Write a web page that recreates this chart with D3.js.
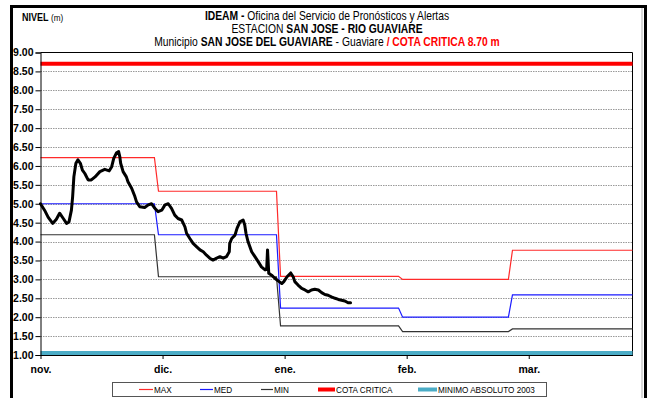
<!DOCTYPE html>
<html>
<head>
<meta charset="utf-8">
<script src="https://cdn.jsdelivr.net/npm/d3@7"></script>
<style>
  html, body { margin: 0; padding: 0; background: #fff; }
  svg { display: block; }
</style>
</head>
<body>
<svg id="chart" width="650" height="398"></svg>
<script>
// Axis ticks: day offsets from 1 Nov, labelled by month
const tickDays = [0, 30, 60, 90, 120];
const tickLabels = ["nov.", "dic.", "ene.", "feb.", "mar."];
const levelTicks = [1, 1.5, 2, 2.5, 3, 3.5, 4, 4.5, 5, 5.5, 6, 6.5, 7, 7.5, 8, 8.5, 9];

// Historical reference levels (breakpoints by day)
const refDays   = [0, 28, 29, 58, 59, 88, 89, 115, 116, 145.5];
const maxLevels = [6.22, 6.22, 5.33, 5.33, 3.08, 3.08, 3.00, 3.00, 3.77, 3.77];
const medLevels = [5.00, 5.00, 4.18, 4.18, 2.24, 2.24, 2.00, 2.00, 2.59, 2.59];
const minLevels = [4.18, 4.18, 3.07, 3.07, 1.77, 1.77, 1.62, 1.62, 1.69, 1.69];

const cotaCritica = 8.70;
const minimoAbsoluto = 1.05;

// Observed water level (day offset, metres)
const obsDays = [0, 1, 1.9, 3, 3.9, 4.7, 5.6, 6.4, 7, 7.6, 7.9, 8.2, 8.7, 9.2, 9.8, 10.3, 10.9, 11.7, 12.5, 13.4,
  14.6, 15.8, 16.9, 17.5, 18, 18.7, 19.2, 19.5, 19.7, 20.3, 21.1, 21.5, 22.4, 23.2, 23.6, 24.4, 25.6, 26.5, 27.3,
  28.1, 28.9, 29.8, 30.6, 31.4, 32.2, 33, 33.8, 34.7, 35.1, 35.5, 35.9, 36.7, 37.5, 38.4, 39.2, 40, 40.8, 41.6,
  42.4, 43.3, 44.1, 44.9, 45.7, 46.4, 46.5, 47, 47.8, 48.3, 49, 49.8, 50.2, 50.5, 51, 51.9, 52.7, 53.5, 54.3,
  55.2, 55.6, 55.8, 56.1, 56.8, 57.6, 58.4, 59.3, 59.8, 60.6, 61.5, 62.1, 62.5, 63.3, 64.2, 65, 65.8, 66.6,
  67.4, 68.3, 69.1, 69.9, 70.7, 71.5, 72.4, 73.2, 74, 74.8, 75.6, 76.2];
const obsLevels = [5.00, 4.83, 4.64, 4.48, 4.59, 4.75, 4.61, 4.48, 4.52, 4.83, 5.19, 5.71, 6.07, 6.16, 6.07, 5.89,
  5.80, 5.63, 5.63, 5.71, 5.85, 5.91, 5.87, 5.98, 6.20, 6.35, 6.38, 6.24, 6.07, 5.85, 5.71, 5.58, 5.41, 5.19,
  5.05, 4.92, 4.90, 4.97, 5.00, 4.88, 4.79, 4.83, 4.97, 5.00, 4.88, 4.70, 4.61, 4.57, 4.48, 4.39, 4.22, 4.08,
  3.95, 3.86, 3.78, 3.73, 3.64, 3.56, 3.51, 3.56, 3.60, 3.56, 3.60, 3.73, 3.95, 4.08, 4.17, 4.35, 4.52, 4.57,
  4.44, 4.22, 4.00, 3.73, 3.60, 3.47, 3.33, 3.25, 3.29, 3.78, 3.16, 3.11, 3.03, 2.96, 2.89, 2.94, 3.07, 3.17,
  3.07, 2.94, 2.85, 2.76, 2.72, 2.67, 2.72, 2.74, 2.72, 2.65, 2.60, 2.58, 2.54, 2.50, 2.47, 2.45, 2.43, 2.38, 2.38];

const legendItems = [
  { label: "MAX", color: "#ff2a2a", width: 1 },
  { label: "MED", color: "#1a1aff", width: 1 },
  { label: "MIN", color: "#333333", width: 1 },
  { label: "COTA CRITICA", color: "#ff0000", width: 4 },
  { label: "MINIMO ABSOLUTO 2003", color: "#4bacc6", width: 4 }
];

const SANS = "'Liberation Sans', Arial, Helvetica, sans-serif";
const CONDENSE = 0.86; // horizontal squeeze for the condensed header and legend lettering

const svg = d3.select("#chart");
const plot = { left: 40.5, right: 632.5, top: 52.5, bottom: 355 };

const x = d3.scaleLinear().domain([0, 145.5]).range([plot.left, plot.right]);
const y = d3.scaleLinear().domain([1, 9]).range([plot.bottom, plot.top]);

svg.append("rect").attr("width", 650).attr("height", 398).attr("fill", "#fff");

// Outer frame
svg.append("rect")
  .attr("x", 11.5).attr("y", 6.5).attr("width", 634).attr("height", 400)
  .attr("fill", "none").attr("stroke", "#000").attr("stroke-width", 3);
svg.append("line")
  .attr("x1", 642).attr("x2", 642).attr("y1", 8).attr("y2", 398)
  .attr("stroke", "#b0b0b0").attr("stroke-width", 1);

// Title
const title = svg.append("g").attr("font-family", SANS).attr("font-size", 12).attr("text-anchor", "middle");
const titleLine = yPos => title.append("text")
  .attr("transform", `translate(327,${yPos}) scale(${CONDENSE},1)`);
const t1 = titleLine(20);
t1.append("tspan").attr("font-weight", "bold").text("IDEAM - ");
t1.append("tspan").text("Oficina del Servicio de Pronósticos y Alertas");
const t2 = titleLine(33);
t2.append("tspan").text("ESTACION ");
t2.append("tspan").attr("font-weight", "bold").text("SAN JOSE - RIO GUAVIARE");
const t3 = titleLine(46);
t3.append("tspan").text("Municipio ");
t3.append("tspan").attr("font-weight", "bold").text("SAN JOSE DEL GUAVIARE");
t3.append("tspan").text(" - Guaviare ");
t3.append("tspan").attr("font-weight", "bold").attr("fill", "#ff0000").text("  / COTA CRITICA 8.70 m");

const unit = svg.append("text")
  .attr("transform", `translate(22,21) scale(${CONDENSE},1)`)
  .attr("font-family", SANS).attr("font-size", 10.5);
unit.append("tspan").attr("font-weight", "bold").text("NIVEL ");
unit.append("tspan").attr("font-size", 9.5).text("(m)");

// Dotted gridlines
svg.append("g")
  .selectAll("line")
  .data(levelTicks.filter(v => v > 1 && v < 9))
  .join("line")
  .attr("x1", plot.left).attr("x2", plot.right)
  .attr("y1", d => Math.round(y(d)) + 0.5).attr("y2", d => Math.round(y(d)) + 0.5)
  .attr("stroke", "#9a9a9a").attr("stroke-width", 1).attr("stroke-dasharray", "1.5,1");

// Plot frame (top and right)
svg.append("path")
  .attr("d", `M${plot.left},${plot.top}H${plot.right}V${plot.bottom}`)
  .attr("fill", "none").attr("stroke", "#000").attr("stroke-width", 1);

const line = d3.line().x(d => x(d[0])).y(d => y(d[1]));
const series = (days, vals) => days.map((d, i) => [d, vals[i]]);

const refSeries = [
  { vals: maxLevels, color: "#ff2a2a" },
  { vals: medLevels, color: "#1a1aff" },
  { vals: minLevels, color: "#333333" }
];
svg.append("g").selectAll("path").data(refSeries).join("path")
  .attr("d", s => line(series(refDays, s.vals)))
  .attr("fill", "none").attr("stroke", s => s.color).attr("stroke-width", 1.2);

// Critical level and historic minimum
svg.append("line")
  .attr("x1", plot.left).attr("x2", plot.right)
  .attr("y1", y(cotaCritica)).attr("y2", y(cotaCritica))
  .attr("stroke", "#ff0000").attr("stroke-width", 4);
svg.append("line")
  .attr("x1", plot.left).attr("x2", plot.right)
  .attr("y1", y(minimoAbsoluto)).attr("y2", y(minimoAbsoluto))
  .attr("stroke", "#4bacc6").attr("stroke-width", 4);

// Observed level
svg.append("path")
  .attr("d", line(series(obsDays, obsLevels)))
  .attr("fill", "none").attr("stroke", "#000").attr("stroke-width", 3)
  .attr("stroke-linejoin", "round").attr("stroke-linecap", "round");

// Axes
const yAxis = svg.append("g")
  .attr("transform", `translate(${plot.left},0)`)
  .call(d3.axisLeft(y).tickValues(levelTicks).tickFormat(d3.format(".2f")).tickSize(5).tickPadding(2));
yAxis.select(".domain").attr("stroke", "#000");
yAxis.selectAll("text").attr("font-family", SANS).attr("font-weight", "bold").attr("font-size", 10.5).attr("fill", "#000");

const xAxis = svg.append("g")
  .attr("transform", `translate(0,${plot.bottom})`)
  .call(d3.axisBottom(x).tickValues(tickDays).tickFormat((d, i) => tickLabels[i]).tickSize(4).tickPadding(7).tickSizeOuter(0));
xAxis.select(".domain").attr("stroke", "#000");
xAxis.selectAll("text").attr("font-family", SANS).attr("font-weight", "bold").attr("font-size", 10.5).attr("fill", "#000");

// Legend
const legend = svg.append("g");
legend.append("rect")
  .attr("x", 112.5).attr("y", 382.5).attr("width", 434).attr("height", 14)
  .attr("fill", "#fff").attr("stroke", "#555").attr("stroke-width", 1);
const legendX = [139, 200, 261, 318, 418];
const legendLen = [14, 13, 12, 17, 19];
legendItems.forEach((it, i) => {
  const lx = legendX[i];
  legend.append("line")
    .attr("x1", lx).attr("x2", lx + legendLen[i])
    .attr("y1", 389.5).attr("y2", 389.5)
    .attr("stroke", it.color).attr("stroke-width", it.width === 1 ? 1.2 : it.width);
  legend.append("text")
    .attr("transform", `translate(${lx + legendLen[i] + 1},393) scale(${CONDENSE},1)`)
    .attr("font-family", SANS).attr("font-size", 9.5).attr("fill", "#000")
    .text(it.label);
});
</script>
</body>
</html>
